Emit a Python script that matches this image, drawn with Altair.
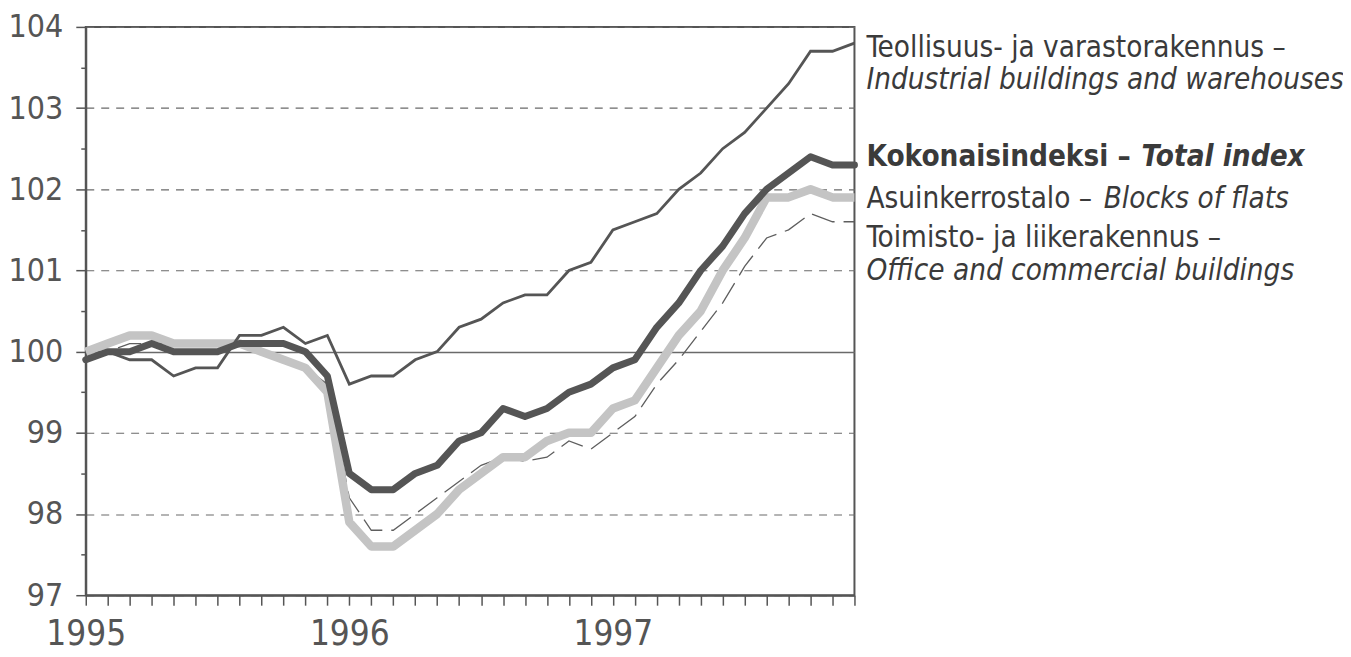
import altair as alt
import pandas as pd

# ---------------- data (monthly index, Jan 1995 .. Dec 1997) ----------------
year_labels = ["1995", "1996", "1997"]
month_index = list(range(36))

industrial = [99.9, 100.0, 99.9, 99.9, 99.7, 99.8, 99.8, 100.2, 100.2, 100.3, 100.1, 100.2,
              99.6, 99.7, 99.7, 99.9, 100.0, 100.3, 100.4, 100.6, 100.7, 100.7, 101.0, 101.1,
              101.5, 101.6, 101.7, 102.0, 102.2, 102.5, 102.7, 103.0, 103.3, 103.7, 103.7, 103.8]

total = [99.9, 100.0, 100.0, 100.1, 100.0, 100.0, 100.0, 100.1, 100.1, 100.1, 100.0, 99.7,
         98.5, 98.3, 98.3, 98.5, 98.6, 98.9, 99.0, 99.3, 99.2, 99.3, 99.5, 99.6,
         99.8, 99.9, 100.3, 100.6, 101.0, 101.3, 101.7, 102.0, 102.2, 102.4, 102.3, 102.3]

flats = [100.0, 100.1, 100.2, 100.2, 100.1, 100.1, 100.1, 100.1, 100.0, 99.9, 99.8, 99.5,
         97.9, 97.6, 97.6, 97.8, 98.0, 98.3, 98.5, 98.7, 98.7, 98.9, 99.0, 99.0,
         99.3, 99.4, 99.8, 100.2, 100.5, 101.0, 101.4, 101.9, 101.9, 102.0, 101.9, 101.9]

office = [100.0, 100.0, 100.1, 100.1, 100.1, 100.1, 100.1, 100.1, 100.0, 99.9, 99.8, 99.6,
          98.2, 97.8, 97.8, 98.0, 98.2, 98.4, 98.6, 98.7, 98.65, 98.7, 98.9, 98.8,
          99.0, 99.2, 99.6, 99.9, 100.25, 100.6, 101.05, 101.4, 101.5, 101.7, 101.6, 101.6]

y_ticks = [97 + 0.5 * k for k in range(15)]

series = [("office", office), ("flats", flats), ("total", total), ("industrial", industrial)]
rows = []
for name, vals in series:
    for m, v in zip(month_index, vals):
        rows.append({"m": m, "v": v, "s": name})
df = pd.DataFrame(rows)

FONT = "DejaVu Sans Condensed, Liberation Sans Narrow, sans-serif"
INK = "#555555"
TXT = "#3a3a3a"

label_expr = " : ".join(
    f"datum.value === {12 * i} ? '{y}'" for i, y in enumerate(year_labels)
) + " : ''"

x_enc = alt.X(
    "m:Q",
    scale=alt.Scale(domain=[0, 35], nice=False, zero=False),
    axis=alt.Axis(
        title=None, values=month_index, labelExpr=label_expr,
        tickSize=10, tickColor=INK, tickWidth=1.5,
        domainColor=INK, domainWidth=2, grid=False,
        labelFont=FONT, labelFontSize=35, labelColor=INK, labelPadding=11,
        labelFlush=False, labelOverlap=False, labelBound=False,
    ),
)

y_enc = alt.Y(
    "v:Q",
    scale=alt.Scale(domain=[97, 104], nice=False, zero=False),
    axis=alt.Axis(
        title=None, values=y_ticks,
        labelExpr="datum.value % 1 === 0 ? format(datum.value, 'd') : ''",
        tickSize={"condition": {"test": "datum.value % 1 === 0", "value": 10}, "value": 5},
        tickColor=INK, tickWidth=1.5,
        domainColor=INK, domainWidth=2,
        labelFont=FONT, labelFontSize=32, labelColor=INK, labelPadding=13,
        labelOverlap=False, labelBound=False, labelFlush=False,
        grid=True, gridColor="#6a6a6a",
        gridOpacity={"condition": {"test": "datum.value % 1 !== 0", "value": 0}, "value": 1},
        gridDash={"condition": {"test": "datum.value === 100", "value": []}, "value": [8, 7]},
        gridWidth={"condition": {"test": "datum.value === 100", "value": 1.4}, "value": 1.1},
    ),
)

base = alt.Chart(df).encode(x=x_enc, y=y_enc)

office_l = base.transform_filter("datum.s === 'office'").mark_line(
    color="#5e5e5e", strokeWidth=1.3, strokeDash=[24, 9])
flats_l = base.transform_filter("datum.s === 'flats'").mark_line(
    color="#c4c4c4", strokeWidth=8.5, strokeJoin="round", strokeCap="butt")
total_l = base.transform_filter("datum.s === 'total'").mark_line(
    color=INK, strokeWidth=7, strokeJoin="round", strokeCap="round")
ind_l = base.transform_filter("datum.s === 'industrial'").mark_line(
    color=INK, strokeWidth=2.8, strokeJoin="miter")


def label(text, x, y, weight="normal", style="normal"):
    return alt.Chart(alt.Data(values=[{"t": text}])).mark_text(
        font=FONT, fontSize=29.5, fontWeight=weight, fontStyle=style,
        color=TXT, align="left", baseline="middle",
    ).encode(text="t:N", x=alt.value(x), y=alt.value(y))


X0 = 783
labels = [
    label("Teollisuus- ja varastorakennus \u2013", X0, 21),
    label("Industrial buildings and warehouses", X0, 53, style="italic"),
    label("Kokonaisindeksi \u2013", X0, 131, weight="bold"),
    label("Total index", 1059, 131, weight="bold", style="italic"),
    label("Asuinkerrostalo \u2013", X0, 173),
    label("Blocks of flats", 1021, 173, style="italic"),
    label("Toimisto- ja liikerakennus \u2013", X0, 212),
    label("Office and commercial buildings", X0, 245, style="italic"),
]

chart = alt.layer(office_l, flats_l, total_l, ind_l, *labels).properties(
    width=771, height=570,
    padding={"left": 78, "top": 18, "right": 490, "bottom": 57},
    autosize=alt.AutoSizeParams(type="none"),
    background="white",
).configure_view(stroke=INK, strokeWidth=2)

chart.save("out.html", embed_options={"renderer": "svg", "actions": False})
